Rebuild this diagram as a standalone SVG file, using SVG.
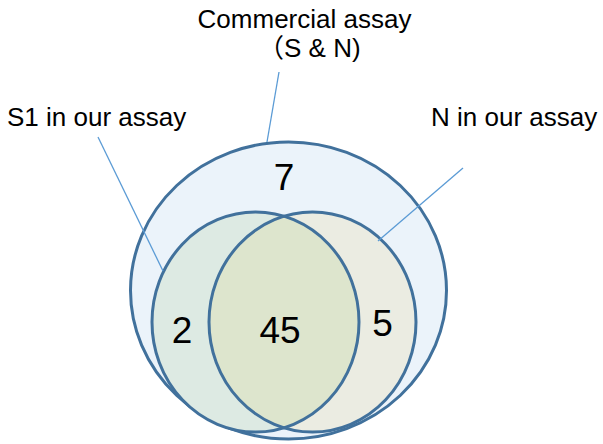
<svg xmlns="http://www.w3.org/2000/svg" width="603" height="444" viewBox="0 0 603 444">
<style>
.ring{stroke:#41719C;stroke-width:3}
.lead{stroke:#5B9BD5;stroke-width:1.3;fill:none}
.lbl{font-family:"Liberation Sans",Arial,"Noto Sans CJK JP",sans-serif;font-size:26px;fill:#000}
.num{font-family:"Liberation Sans",Arial,sans-serif;font-size:37px;fill:#000;text-anchor:middle}
</style>
<defs>
<clipPath id="clipL"><ellipse cx="255.5" cy="322" rx="103.5" ry="110"/></clipPath>
</defs>
<rect width="603" height="444" fill="#fff"/>
<g id="commercial">
<ellipse class="ring" cx="288.5" cy="290.5" rx="158" ry="148.5" fill="#EBF3FA"/>
<text class="lbl" x="304.5" y="28" text-anchor="middle">Commercial assay</text>
<text class="lbl" x="258" y="57">（S &amp; N)</text>
<text class="num" x="284" y="190">7</text>
</g>
<g id="s1">
<ellipse cx="255.5" cy="322" rx="103.5" ry="110" fill="#DDEAE3"/>
<text class="lbl" x="7" y="126">S1 in our assay</text>
<text class="num" x="182" y="343">2</text>
</g>
<g id="n">
<ellipse cx="312.5" cy="322" rx="103.5" ry="110" fill="#EBECE2"/>
<ellipse cx="312.5" cy="322" rx="103.5" ry="110" fill="#DDE5CD" clip-path="url(#clipL)"/>
<text class="lbl" x="431" y="126">N in our assay</text>
<text class="num" x="382.5" y="336">5</text>
</g>
<g id="both">
<text class="num" x="280" y="343">45</text>
</g>
<g id="connectors">
<ellipse class="ring" cx="255.5" cy="322" rx="103.5" ry="110" fill="none"/>
<ellipse class="ring" cx="312.5" cy="322" rx="103.5" ry="110" fill="none"/>
<line class="lead" x1="279" y1="72" x2="267" y2="142"/>
<line class="lead" x1="98" y1="137" x2="163" y2="271"/>
<line class="lead" x1="463" y1="168" x2="378" y2="241"/>
</g>
</svg>
